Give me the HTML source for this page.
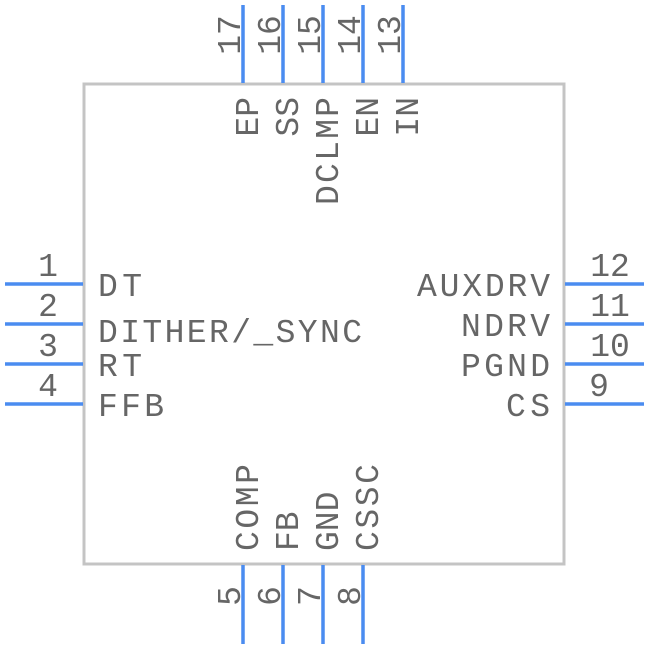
<!DOCTYPE html>
<html><head><meta charset="utf-8"><style>body{margin:0;background:#fff}svg{display:block}</style></head><body>
<svg width="648" height="648" viewBox="0 0 648 648" xmlns="http://www.w3.org/2000/svg">
<rect x="84" y="84" width="480" height="480" fill="#fff" stroke="#c4c4c4" stroke-width="3"/>
<g stroke="#4a8cf0" stroke-width="3.5">
<line x1="5" y1="284" x2="83" y2="284"/><line x1="5" y1="324" x2="83" y2="324"/><line x1="5" y1="364" x2="83" y2="364"/><line x1="5" y1="404" x2="83" y2="404"/>
<line x1="565" y1="284" x2="644" y2="284"/><line x1="565" y1="324" x2="644" y2="324"/><line x1="565" y1="364" x2="644" y2="364"/><line x1="565" y1="404" x2="644" y2="404"/>
<line x1="243" y1="5" x2="243" y2="83"/><line x1="283" y1="5" x2="283" y2="83"/><line x1="323" y1="5" x2="323" y2="83"/><line x1="363" y1="5" x2="363" y2="83"/><line x1="403" y1="5" x2="403" y2="83"/>
<line x1="243" y1="565" x2="243" y2="644"/><line x1="283" y1="565" x2="283" y2="644"/><line x1="323" y1="565" x2="323" y2="644"/><line x1="363" y1="565" x2="363" y2="644"/>
</g>
<g font-family="Liberation Mono, monospace" font-size="33" fill="#666">
<text x="48" y="276" text-anchor="middle">1</text>
<text x="48" y="316" text-anchor="middle">2</text>
<text x="48" y="356" text-anchor="middle">3</text>
<text x="48" y="396" text-anchor="middle">4</text>
<text x="610" y="276" text-anchor="middle">12</text>
<text x="610" y="316" text-anchor="middle">11</text>
<text x="610" y="356" text-anchor="middle">10</text>
<text x="599" y="396" text-anchor="middle">9</text>
<text x="98" y="296" textLength="44">DT</text>
<text x="98" y="342" textLength="264">DITHER/_SYNC</text>
<text x="98" y="376" textLength="44">RT</text>
<text x="98" y="416" textLength="66">FFB</text>
<text x="550" y="296" text-anchor="end" textLength="133">AUXDRV</text>
<text x="550" y="336" text-anchor="end" textLength="89">NDRV</text>
<text x="550" y="376" text-anchor="end" textLength="89">PGND</text>
<text x="550" y="416" text-anchor="end" textLength="44">CS</text>
<g text-anchor="middle">
<text transform="translate(240,35) rotate(-90)">17</text>
<text transform="translate(280,35) rotate(-90)">16</text>
<text transform="translate(320,35) rotate(-90)">15</text>
<text transform="translate(360,35) rotate(-90)">14</text>
<text transform="translate(400,35) rotate(-90)">13</text>
<text transform="translate(240,596) rotate(-90)">5</text>
<text transform="translate(280,596) rotate(-90)">6</text>
<text transform="translate(320,596) rotate(-90)">7</text>
<text transform="translate(360,596) rotate(-90)">8</text>
</g>
<g text-anchor="end">
<text transform="translate(258,97) rotate(-90)">EP</text>
<text transform="translate(298,97) rotate(-90)">SS</text>
<text transform="translate(338,97) rotate(-90)" textLength="108">DCLMP</text>
<text transform="translate(378,97) rotate(-90)">EN</text>
<text transform="translate(418,97) rotate(-90)">IN</text>
</g>
<g>
<text transform="translate(258,551) rotate(-90)" textLength="87">COMP</text>
<text transform="translate(298,551) rotate(-90)">FB</text>
<text transform="translate(338,551) rotate(-90)">GND</text>
<text transform="translate(378,551) rotate(-90)" textLength="87">CSSC</text>
</g>
</g>
</svg>
</body></html>
